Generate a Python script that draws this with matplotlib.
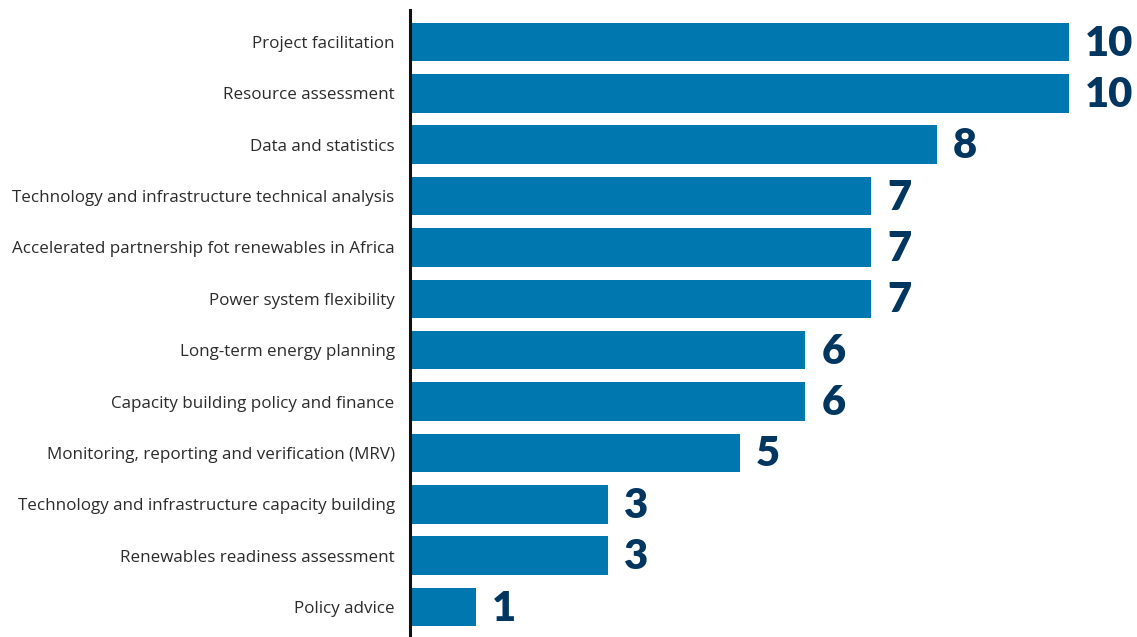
import matplotlib
matplotlib.use("Agg")
import matplotlib.pyplot as plt

categories = [
    "Project facilitation",
    "Resource assessment",
    "Data and statistics",
    "Technology and infrastructure technical analysis",
    "Accelerated partnership fot renewables in Africa",
    "Power system flexibility",
    "Long-term energy planning",
    "Capacity building policy and finance",
    "Monitoring, reporting and verification (MRV)",
    "Technology and infrastructure capacity building",
    "Renewables readiness assessment",
    "Policy advice",
]
values = [10, 10, 8, 7, 7, 7, 6, 6, 5, 3, 3, 1]

BAR_COLOR = "#0077AE"
VALUE_COLOR = "#00365F"
LABEL_COLOR = "#2b2b2b"

fig = plt.figure(figsize=(11.37, 6.37), dpi=100)
ax = fig.add_axes([410 / 1137, 0.0, 1 - 410 / 1137, 1 - 10 / 637])

pos = list(range(len(categories)))
ax.barh(pos, values, height=0.75, color=BAR_COLOR, zorder=2)

for y, v in zip(pos, values):
    ax.text(v + 0.24, y + 0.03, str(v), va="center", ha="left",
            fontsize=30, fontweight="heavy", family="Lato",
            color=VALUE_COLOR)

ax.set_xlim(0, 11.03)
ax.set_ylim(11.584, -0.623)
ax.set_yticks(pos)
ax.set_yticklabels(categories, fontsize=12.25, family="Open Sans", color=LABEL_COLOR)
ax.tick_params(axis="y", length=0, pad=11)
ax.set_xticks([])

for side in ("top", "right", "bottom"):
    ax.spines[side].set_visible(False)
ax.spines["left"].set_linewidth(2.2)
ax.spines["left"].set_color("#111111")

fig.savefig("out.png", dpi=100)
